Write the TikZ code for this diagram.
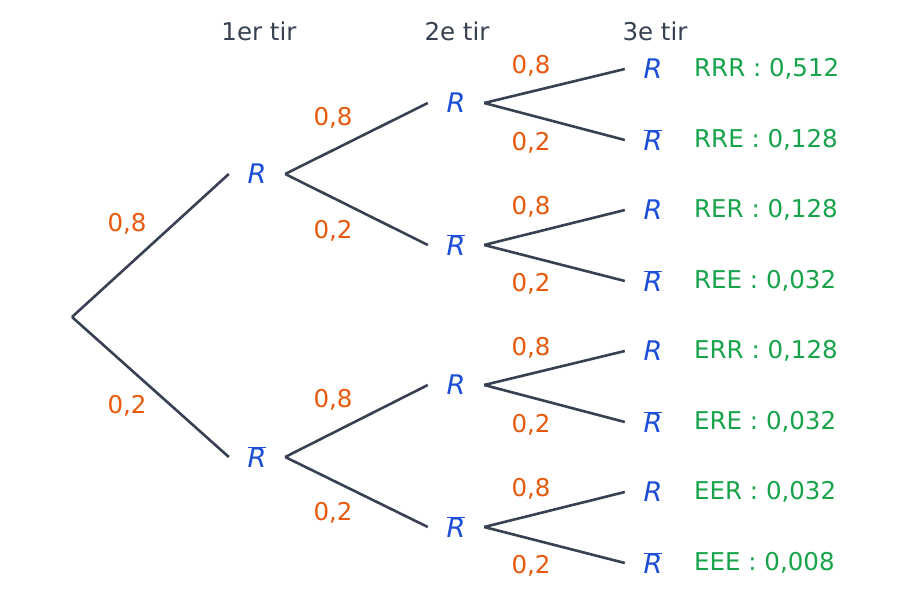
\documentclass[tikz,border=0pt]{standalone}
\usepackage{fontspec}
\setmainfont{DejaVu Sans}
\begin{document}
\begin{tikzpicture}[x=1pt,y=-1pt]
\definecolor{evc}{HTML}{1D4ED8}\definecolor{prc}{HTML}{E8590C}\definecolor{rc}{HTML}{16A34A}\definecolor{lc}{HTML}{374151}
\tikzset{
  ev/.style={minimum width=56pt,inner sep=0pt,text=evc,font=\fontsize{27}{28}\selectfont\itshape},
  pr/.style={text=prc,font=\fontsize{24.5}{26}\selectfont},
  res/.style={text=rc,font=\fontsize{24.5}{26}\selectfont,anchor=west,inner sep=0pt},
  hd/.style={text=lc,font=\fontsize{24.5}{26}\selectfont},
  br/.style={line width=2.6pt,draw=lc}}
\useasboundingbox (0,0) rectangle (913,607);
\newcommand{\Rb}{$\overline{\mbox{\textit{R}}}$}
\node[hd] (h1) at (259,31) {1er tir};
\node[hd] (h2) at (457,31) {2e tir};
\node[hd] (h3) at (655,31) {3e tir};
\coordinate (root) at (72,317);
\node[ev] (a) at (257,174) {R};
\node[ev] (b) at (257,457) {\Rb};
\draw[br] (root) -- (a.west); \draw[br] (root) -- (b.west);
\node[pr] (pa) at (127,224) {0,8};
\node[pr] (pb) at (127,406) {0,2};
\node[ev] (aa) at (456,103) {R};
\node[ev] (ab) at (456,245) {\Rb};
\node[ev] (ba) at (456,385) {R};
\node[ev] (bb) at (456,527) {\Rb};
\foreach \p/\c in {a/aa,a/ab,b/ba,b/bb} \draw[br] (\p.east) -- (\c.west);
\node[pr] (paa) at (333,118) {0,8};
\node[pr] (pab) at (333,231) {0,2};
\node[pr] (pba) at (333,400) {0,8};
\node[pr] (pbb) at (333,513) {0,2};
\foreach \n/\y/\lab/\val/\s in {
 1/69/R/{RRR : 0,512}/aa, 2/140/\Rb/{RRE : 0,128}/aa,
 3/210/R/{RER : 0,128}/ab, 4/281/\Rb/{REE : 0,032}/ab,
 5/351/R/{ERR : 0,128}/ba, 6/422/\Rb/{ERE : 0,032}/ba,
 7/492/R/{EER : 0,032}/bb, 8/563/\Rb/{EEE : 0,008}/bb} {
  \node[ev] (l\n) at (653,\y) {\lab};
  \node[res] (r\n) at (694,\y) {\val};
  \draw[br] (\s.east) -- (l\n.west);
}
\foreach \y/\v in {66/{0,8},143/{0,2},207/{0,8},284/{0,2},348/{0,8},425/{0,2},489/{0,8},566/{0,2}}
  \node[pr] at (531,\y) {\v};
\end{tikzpicture}
\end{document}
